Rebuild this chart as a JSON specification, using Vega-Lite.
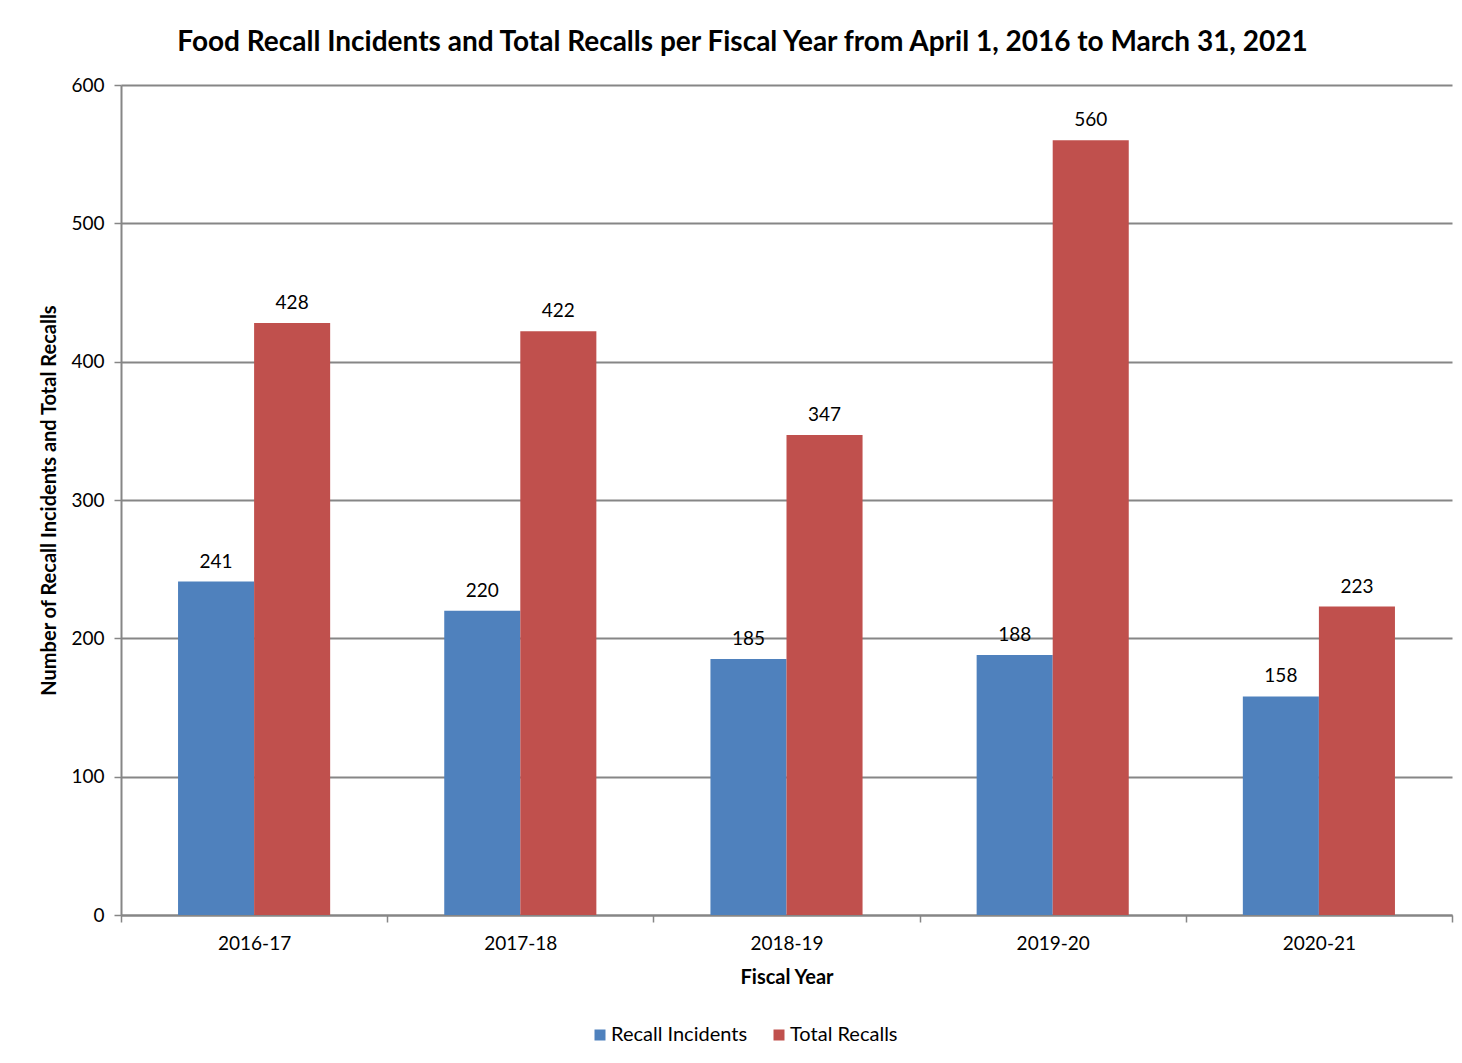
{
  "$schema": "https://vega.github.io/schema/vega-lite/v6.json",
  "width": 1331,
  "height": 830,
  "autosize": {"type": "none"},
  "padding": {"left": 121, "top": 85, "right": 10, "bottom": 148},
  "background": "white",
  "title": {
    "text": "Food Recall Incidents and Total Recalls per Fiscal Year from April 1, 2016 to March 31, 2021",
    "font": "Lato",
    "fontSize": 28,
    "fontWeight": "bold",
    "color": "#000000",
    "anchor": "middle",
    "dx": -44,
    "offset": 19
  },
  "config": {
    "view": {"stroke": null},
    "font": "Lato"
  },
  "data": {
    "values": [
      {"year": "2016-17", "series": "Recall Incidents", "value": 241},
      {"year": "2016-17", "series": "Total Recalls", "value": 428},
      {"year": "2017-18", "series": "Recall Incidents", "value": 220},
      {"year": "2017-18", "series": "Total Recalls", "value": 422},
      {"year": "2018-19", "series": "Recall Incidents", "value": 185},
      {"year": "2018-19", "series": "Total Recalls", "value": 347},
      {"year": "2019-20", "series": "Recall Incidents", "value": 188},
      {"year": "2019-20", "series": "Total Recalls", "value": 560},
      {"year": "2020-21", "series": "Recall Incidents", "value": 158},
      {"year": "2020-21", "series": "Total Recalls", "value": 223}
    ]
  },
  "encoding": {
    "x": {
      "field": "year",
      "type": "nominal",
      "scale": {"paddingInner": 0, "paddingOuter": 0},
      "axis": {
        "title": "Fiscal Year",
        "titleFont": "Lato",
        "titleFontSize": 20,
        "titleFontWeight": "bold",
        "titleColor": "#000000",
        "titlePadding": 14,
        "labelAngle": 0,
        "labelFont": "Lato",
        "labelFontSize": 19,
        "labelColor": "#000000",
        "labelPadding": 12,
        "tickBand": "extent",
        "tickColor": "#868686",
        "tickSize": 7,
        "tickWidth": 1.5,
        "domainColor": "#868686",
        "domainWidth": 2,
        "grid": false
      }
    },
    "xOffset": {
      "field": "series",
      "sort": ["Recall Incidents", "Total Recalls"],
      "scale": {"paddingInner": 0, "paddingOuter": 0.75}
    },
    "y": {
      "field": "value",
      "type": "quantitative",
      "scale": {"domain": [0, 600], "nice": false},
      "axis": {
        "title": "Number of Recall Incidents and Total Recalls",
        "titleFont": "Lato",
        "titleFontSize": 20,
        "titleFontWeight": "bold",
        "titleColor": "#000000",
        "titlePadding": 11,
        "values": [0, 100, 200, 300, 400, 500, 600],
        "labelFont": "Lato",
        "labelFontSize": 19,
        "labelColor": "#000000",
        "labelPadding": 10,
        "tickColor": "#868686",
        "tickSize": 7,
        "tickWidth": 1.5,
        "domainColor": "#868686",
        "domainWidth": 2,
        "grid": true,
        "gridColor": "#868686",
        "gridWidth": 2
      }
    }
  },
  "layer": [
    {
      "mark": {"type": "bar"},
      "encoding": {
        "color": {
          "field": "series",
          "type": "nominal",
          "scale": {"domain": ["Recall Incidents", "Total Recalls"], "range": ["#4F81BD", "#C0504D"]},
          "legend": {
            "title": null,
            "orient": "none",
            "direction": "horizontal",
            "legendX": 469,
            "legendY": 940,
            "symbolType": "square",
            "symbolSize": 121,
            "symbolStrokeWidth": 0,
            "labelFont": "Lato",
            "labelFontSize": 20,
            "labelColor": "#000000",
            "labelOffset": 1,
            "columnPadding": 21
          }
        }
      }
    },
    {
      "mark": {"type": "text", "baseline": "bottom", "dy": -10, "font": "Lato", "fontSize": 19, "color": "#000000"},
      "encoding": {
        "text": {"field": "value", "type": "quantitative"}
      }
    }
  ]
}
